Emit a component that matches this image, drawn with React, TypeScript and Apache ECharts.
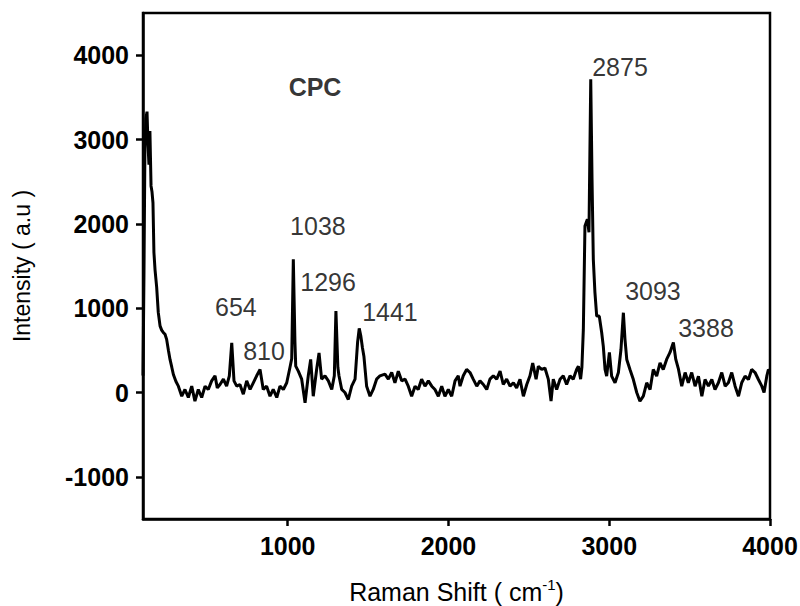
import React, { useEffect, useRef } from "react";
import * as echarts from "echarts";

const wavenumbers: number[] = [
  100, 106, 112, 118, 125, 131, 137, 143, 150, 156, 162, 168, 175, 185, 195, 206, 216, 226, 237, 247,
  258, 268, 279, 289, 305, 320, 341, 361, 382, 403, 423, 444, 465, 486, 506, 527, 548, 562, 579, 600,
  620, 637, 652, 666, 683, 703, 724, 745, 766, 786, 807, 828, 848, 869, 890, 910, 932, 952, 973, 994,
  1014, 1025, 1035, 1045, 1050, 1066, 1087, 1108, 1128, 1143, 1159, 1180, 1195, 1211, 1232, 1253, 1274, 1290, 1300, 1312,
  1319, 1336, 1356, 1377, 1398, 1419, 1435, 1445, 1455, 1465, 1474, 1491, 1512, 1532, 1553, 1574, 1605, 1626, 1647, 1667,
  1688, 1709, 1730, 1750, 1771, 1792, 1812, 1833, 1854, 1875, 1896, 1916, 1937, 1958, 1978, 1999, 2020, 2041, 2061, 2072,
  2092, 2113, 2134, 2154, 2176, 2196, 2217, 2238, 2258, 2279, 2300, 2321, 2341, 2362, 2383, 2404, 2424, 2445, 2466, 2487,
  2507, 2524, 2545, 2559, 2580, 2600, 2621, 2638, 2652, 2673, 2694, 2714, 2735, 2756, 2776, 2797, 2808, 2822, 2830, 2839,
  2849, 2864, 2874, 2885, 2893, 2901, 2911, 2922, 2938, 2953, 2963, 2974, 2984, 3001, 3015, 3036, 3057, 3073, 3088, 3098,
  3109, 3129, 3150, 3171, 3191, 3212, 3233, 3254, 3274, 3295, 3316, 3336, 3357, 3378, 3399, 3414, 3431, 3451, 3472, 3492,
  3513, 3534, 3555, 3576, 3596, 3617, 3638, 3658, 3679, 3700, 3721, 3741, 3762, 3783, 3804, 3824, 3845, 3866, 3886, 3907,
  3928, 3949, 3963, 3980, 3990, 4000,
];

const intensity: number[] = [
  200, 1400, 2900, 3250, 3330, 2950, 2700, 3100, 2450, 2380, 2250, 1660, 1450, 1250, 950, 790, 740, 712, 690, 630,
  500, 392, 300, 214, 130, 75, -44, 36, -59, 75, -103, 36, -59, 75, 36, 138, 198, 55, 95, 158,
  75, 198, 590, 138, 75, 95, -20, 138, 36, 115, 198, 273, 36, 75, -44, 36, -59, 75, 36, 115,
  297, 400, 1580, 600, 313, 253, 158, -122, 198, 392, -44, 273, 470, 158, 198, 138, 36, 198, 965, 300,
  198, 36, 0, -83, 75, 158, 600, 760, 668, 530, 431, 75, -44, 36, 158, 198, 218, 158, 237, 115,
  253, 138, 158, 75, -44, 75, 36, 158, 75, 138, 75, 36, -44, 75, -44, 36, -44, 138, 198, 75,
  198, 273, 237, 158, 75, 138, 95, 36, 158, 198, 158, 253, 95, 158, 75, 115, 55, 158, -44, 95,
  198, 348, 158, 310, 273, 290, 158, -103, 158, 36, 158, 198, 95, 198, 158, 273, 310, 158, 300, 748,
  1974, 2054, 1900, 3715, 2528, 1579, 1187, 906, 906, 712, 550, 273, 194, 475, 194, 115, 237, 510, 946, 630,
  392, 273, 154, 0, -103, -44, 115, 36, 273, 194, 352, 273, 392, 475, 594, 392, 273, 75, 237, 115,
  237, 75, 194, -44, 154, 75, 154, 36, 115, 237, 75, 115, 237, 75, -44, 115, 194, 154, 273, 237,
  154, 75, 0, 194, 273, 250,
];

const peakLabels: string[] = ["CPC", "654", "810", "1038", "1296", "1441", "2875", "3093", "3388"];
const peakLabelX: number[] = [1170, 678, 853, 1188, 1251, 1636, 3067, 3272, 3602];
const peakLabelY: number[] = [3620, 1009, 487, 1970, 1306, 950, 3858, 1199, 760];

const xTicks: number[] = [1000, 2000, 3000, 4000];
const yTicks: number[] = [-1000, 0, 1000, 2000, 3000, 4000];

const FONT = 'Arial, "Liberation Sans", sans-serif';

export default function App() {
  const ref = useRef<HTMLDivElement>(null);
  useEffect(() => {
    if (!ref.current) return;
    const chart = echarts.init(ref.current, null, { renderer: "svg" });
    const lineData = wavenumbers.map((w, i) => [w, intensity[i]]);
    const labelData = peakLabels.map((name, i) => ({
      value: [peakLabelX[i], peakLabelY[i]],
      name,
      label: {
        fontWeight: name === "CPC" ? "bold" : "normal",
        fontSize: 25,
        color: "#000",
        textBorderWidth: 0,
      },
    }));
    chart.setOption({
      animation: false,
      backgroundColor: "#ffffff",
      grid: {
        left: 143,
        right: 30,
        top: 13,
        bottom: 87,
        show: true,
        borderColor: "#000",
        borderWidth: 2.5,
        containLabel: false,
        outerBoundsMode: "none",
      },
      xAxis: {
        type: "value",
        min: 100,
        max: 4000,
        name: "{n|Raman Shift ( cm}{s|-1}{n|)}",
        nameLocation: "middle",
        nameGap: 58,
        nameTextStyle: {
          rich: {
            n: { fontSize: 25, fontFamily: FONT, color: "#000", lineHeight: 30 },
            s: { fontSize: 15, fontFamily: FONT, color: "#000", verticalAlign: "top", lineHeight: 30 },
          },
        },
        splitLine: { show: false },
        axisLine: { show: true, onZero: false, lineStyle: { color: "#000", width: 2.5 } },
        axisTick: { show: true, inside: false, length: 7, customValues: xTicks, lineStyle: { color: "#000", width: 2.5 } },
        axisLabel: {
          customValues: xTicks,
          formatter: (v: number) => String(v),
          fontSize: 25,
          fontWeight: "bold",
          fontFamily: FONT,
          color: "#000",
          margin: 14,
        },
      },
      yAxis: {
        type: "value",
        min: -1500,
        max: 4500,
        name: "Intensity ( a.u )",
        nameLocation: "middle",
        nameGap: 110,
        nameTextStyle: { fontSize: 23, fontFamily: FONT, color: "#000" },
        splitLine: { show: false },
        axisLine: { show: true, onZero: false, lineStyle: { color: "#000", width: 2.5 } },
        axisTick: { show: true, inside: false, length: 7, customValues: yTicks, lineStyle: { color: "#000", width: 2.5 } },
        axisLabel: {
          customValues: yTicks,
          formatter: (v: number) => String(v),
          fontSize: 25,
          fontWeight: "bold",
          fontFamily: FONT,
          color: "#000",
          margin: 14,
        },
      },
      series: [
        {
          type: "line",
          data: lineData,
          showSymbol: false,
          symbol: "none",
          lineStyle: { color: "#000", width: 3 },
          silent: true,
        },
        {
          type: "scatter",
          data: labelData,
          symbolSize: 0,
          silent: true,
          label: {
            show: true,
            position: "inside",
            formatter: "{b}",
            color: "#000",
            textBorderWidth: 0,
            fontFamily: FONT,
          },
        },
      ],
    });
    return () => chart.dispose();
  }, []);
  return <div ref={ref} style={{ width: 800, height: 606, position: "absolute", left: 0, top: 0 }} />;
}
